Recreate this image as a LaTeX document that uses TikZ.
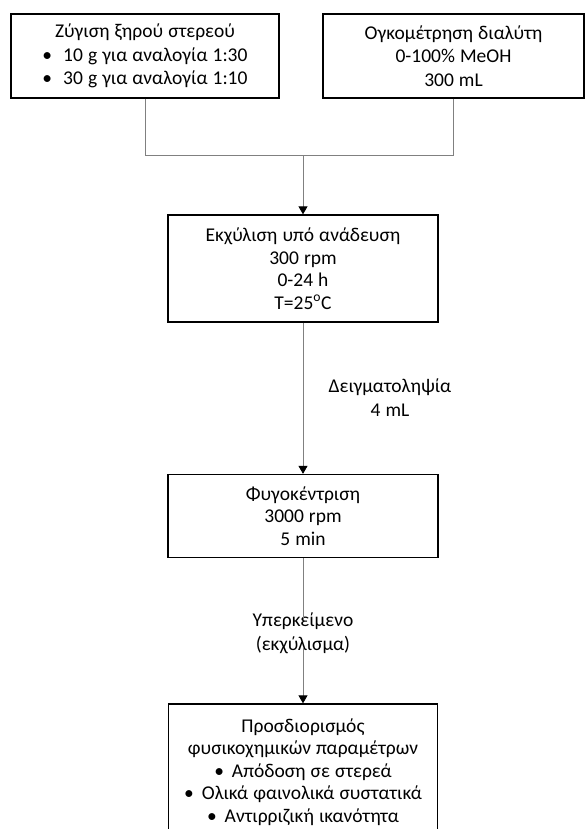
\documentclass[tikz,border=0pt]{standalone}
\usepackage{fontspec}
\setmainfont{Carlito}[WordSpace=1.15]
\usetikzlibrary{arrows.meta}
\tikzset{
  procbox/.style={draw=black, line width=1.3bp, fill=white, align=center,
    inner sep=0pt, font=\fontsize{19.5bp}{22.5bp}\selectfont},
  topbox/.style={procbox, minimum height=84bp, font=\fontsize{19.5bp}{23.5bp}\selectfont},
  flowline/.style={draw=black!50, line width=0.9bp},
  flowarrow/.style={flowline, -{Triangle[length=8bp,width=9bp,fill=black,color=black]}},
  flowlabel/.style={align=center, inner sep=0pt, font=\fontsize{19.5bp}{24bp}\selectfont},
}
\newcommand{\bl}{\textbullet\hspace{11bp}}
\newcommand{\bs}{\textbullet\hspace{8bp}}
\begin{document}
\begin{tikzpicture}[x=1bp,y=-1bp]
  \useasboundingbox (0,0) rectangle (585,829);
  \clip (0,0) rectangle (585,829);

  % input steps
  \node[topbox, minimum width=268bp] (weigh) at (145,56)
    {Ζύγιση ξηρού στερεού\\ \bl 10 g για αναλογία 1:30\\ \bl 30 g για αναλογία 1:10};
  \node[topbox, minimum width=261bp] (solvent) at (453.5,56)
    {Ογκομέτρηση διαλύτη\\ 0-100\% MeOH\\ 300 mL};

  % extraction
  \node[procbox, minimum width=270bp, minimum height=107bp] (extract) at (303,268.5)
    {Εκχύλιση υπό ανάδευση\\ 300 rpm\\ 0-24 h\\ T=25\textsuperscript{o}C};

  % centrifugation
  \node[procbox, minimum width=270bp, minimum height=83bp] (centri) at (303,516)
    {Φυγοκέντριση\\ 3000 rpm\\ 5 min};

  % analysis
  \node[procbox, minimum width=269bp, minimum height=136bp] (analysis) at (303,772)
    {Προσδιορισμός\\ φυσικοχημικών παραμέτρων\\ \bs Απόδοση σε στερεά\\
     \bs Ολικά φαινολικά συστατικά\\ \bs Αντιρριζική ικανότητα};

  % labels on the connectors
  \node[flowlabel] (sampling) at (390,398) {Δειγματοληψία\\ 4 mL};
  \node[flowlabel] (supern) at (303,633) {Υπερκείμενο\\ (εκχύλισμα)};

  % connectors
  \coordinate (join) at (303,155);
  \draw[flowline] (weigh.south) |- (join);
  \draw[flowline] (solvent.south) |- (join);
  \draw[flowarrow] (join) -- (extract.north);
  \draw[flowarrow] (extract.south) -- (centri.north);
  \draw[flowline] (centri.south) -- ([yshift=-8bp]supern.north);
  \draw[flowarrow] ([yshift=6bp]supern.south) -- (analysis.north);
\end{tikzpicture}
\end{document}
